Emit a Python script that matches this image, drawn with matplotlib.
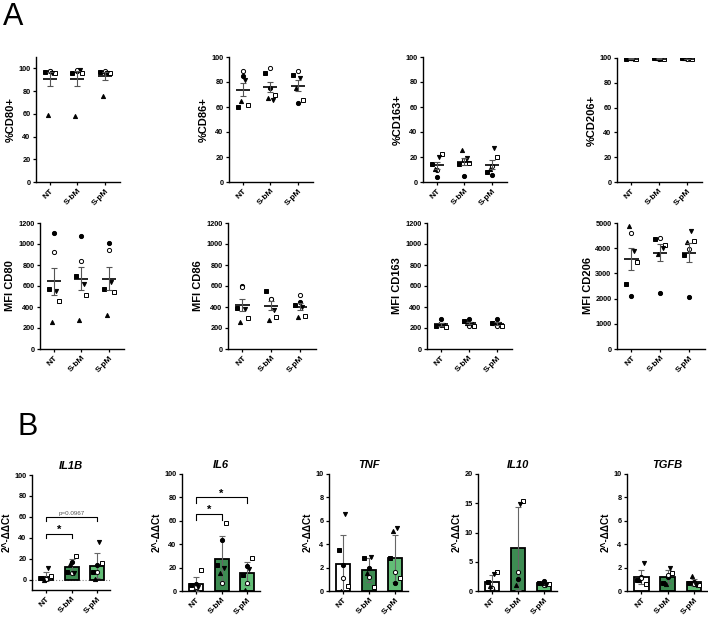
import numpy as np
import matplotlib
matplotlib.use('Agg')
import matplotlib.pyplot as plt

plt.rcParams['font.family'] = ['Liberation Sans', 'DejaVu Sans']
plt.rcParams['font.weight'] = 'bold'
plt.rcParams['axes.linewidth'] = 1.0

W, H = 708, 619
groups = ['NT', 'S-bM', 'S-pM']

# donor order in every list: filled circle, open circle, filled square,
# open square, triangle up, triangle down
donor_marker = ['o', 'o', 's', 's', '^', 'v']
donor_filled = [True, False, True, False, True, True]
donor_dx = [0.0, 0.0, -0.18, 0.18, -0.08, 0.08]

# ---- panel A, top row (% positive) ----
pct_cd80 = [[98, 98, 97, 96, 59, 96],
            [98, 99, 96, 96, 58, 98.5],
            [97, 98, 97, 96, 76, 96]]
pct_cd86 = [[85, 89, 60, 62, 65, 82],
            [75, 91, 87, 70, 67, 66],
            [63, 89, 86, 66, 75, 83]]
pct_cd163 = [[3.7, 9.6, 14.4, 22.7, 10.4, 20],
             [5, 18, 14.4, 15, 26, 19.5],
             [5.9, 12.5, 8, 20, 10.4, 27]]
pct_cd206 = [[99.6, 99.8, 99.4, 99.5, 99.7, 99.2],
             [99.5, 99.7, 99.6, 99.4, 99.8, 99.3],
             [99.6, 99.5, 99.7, 99.4, 99.6, 99.3]]

# ---- panel A, bottom row (MFI) ----
mfi_cd80 = [[1104, 926, 567, 458, 261, 557],
            [1073, 840, 697, 512, 280, 617],
            [1009, 939, 573, 544, 321, 640]]
mfi_cd86 = [[601, 592, 395, 299, 261, 382],
            [480, 480, 555, 305, 280, 370],
            [452, 516, 420, 318, 309, 404]]
mfi_cd163 = [[286, 225, 220, 205, 235, 230],
             [285, 220, 265, 215, 245, 240],
             [285, 220, 250, 215, 245, 240]]
mfi_cd206 = [[2109, 4589, 2586, 3435, 4867, 3900],
             [2215, 4403, 4363, 4138, 3766, 4005],
             [2056, 3979, 3740, 4270, 4244, 4668]]

# ---- panel B (2^-ddCt) ----
il1b = [[0.5, 1, 1.5, 3, 0, 11],
        [17, 6, 7, 23, 15, 6],
        [13.6, 7, 7.3, 16, 0.6, 36]]
il6 = [[6, 3.7, 5, 18, 0, 3],
       [44, 6.6, 22, 58, 15, 20],
       [21.6, 6.5, 14, 28, 1, 19]]
tnf = [[2.2, 1.1, 3.5, 0.45, 0, 6.6],
       [2.0, 1.2, 2.8, 0.3, 1.5, 2.9],
       [0.65, 1.65, 2.8, 1.1, 5.1, 5.4]]
il10 = [[0.35, 0.45, 1.5, 3.3, 0.9, 2.85],
        [2.0, 3.2, np.nan, 15.3, 1.1, 14.8],
        [1.7, 1.0, 1.3, 1.2, 1.4, 1.1]]
tgfb = [[1.2, 1.1, 0.9, 0.6, 0.9, 2.36],
        [1.2, 1.4, 0.7, 1.5, 0.6, 2.0],
        [0.8, 0.6, 0.7, 0.5, 1.3, 0.5]]

bar_colors = ['white', '#3d8c52', '#62bd76']

fig = plt.figure(figsize=(W / 100, H / 100), dpi=100)


def add_ax(x0, x1, ytop, ybot):
    return fig.add_axes([x0 / W, 1 - ybot / H, (x1 - x0) / W, (ybot - ytop) / H])


def style(ax, ylim, yticks, ylabel, xlim=(-0.5, 2.55), ylab_size=8):
    ax.spines['top'].set_visible(False)
    ax.spines['right'].set_visible(False)
    ax.set_xlim(*xlim)
    ax.set_ylim(*ylim)
    ax.set_yticks(yticks)
    ax.set_xticks(range(3))
    ax.set_xticklabels(groups, rotation=45, ha='right', rotation_mode='anchor')
    ax.tick_params(labelsize=5.3, length=2.5, width=0.9, pad=1.5)
    ax.tick_params(axis='x', labelsize=6)
    ax.set_ylabel(ylabel, fontsize=ylab_size, fontweight='bold', labelpad=2)


def draw_points(ax, data):
    for gi, vals in enumerate(data):
        for di, v in enumerate(vals):
            if np.isnan(v):
                continue
            ax.plot(gi + donor_dx[di], v, ls='none', marker=donor_marker[di],
                    ms=3, mew=0.7, mec='k',
                    mfc='k' if donor_filled[di] else 'white', zorder=4)


def scatter_panel(box, data, ylim, yticks, ylabel):
    ax = add_ax(*box)
    draw_points(ax, data)
    for gi, vals in enumerate(data):
        v = np.array(vals, dtype=float)
        v = v[~np.isnan(v)]
        m = v.mean()
        sem = v.std(ddof=1) / np.sqrt(len(v))
        ax.hlines(m, gi - 0.25, gi + 0.25, color='k', lw=1.2, zorder=5)
        ax.errorbar(gi, m, yerr=sem, fmt='none', ecolor='#555555',
                    elinewidth=0.8, capsize=2.5, capthick=0.8, zorder=5)
    style(ax, ylim, yticks, ylabel)
    return ax


def bar_panel(box, data, ylim, yticks, title, xlim=(-0.55, 2.5)):
    ax = add_ax(*box)
    means, sds = [], []
    for vals in data:
        v = np.array(vals, dtype=float)
        v = v[~np.isnan(v)]
        means.append(v.mean())
        sds.append(v.std(ddof=1))
    ax.bar(range(3), means, width=0.55, color=bar_colors, edgecolor='k',
           linewidth=1.3, zorder=2)
    ax.errorbar(range(3), means, yerr=sds, fmt='none', ecolor='#666666',
                elinewidth=0.8, capsize=2.5, capthick=0.8, zorder=3)
    draw_points(ax, data)
    style(ax, ylim, yticks, '2^-ΔΔCt', xlim=xlim, ylab_size=7.2)
    ax.set_title(title, fontsize=8, fontstyle='italic', fontweight='bold', pad=4)
    return ax


def bracket(ax, x0, x1, y, drop, label, size=8, color='k', weight='bold', off=0.0):
    ax.plot([x0, x0, x1, x1], [y - drop, y, y, y - drop], color='k', lw=0.8, zorder=6)
    ax.text((x0 + x1) / 2, y + off, label, ha='center', va='bottom',
            fontsize=size, color=color, fontweight=weight)


# panel A top row
scatter_panel((36, 120, 57, 182), pct_cd80, (0, 110), range(0, 101, 20), '%CD80+')
scatter_panel((229, 313, 57, 182), pct_cd86, (0, 100), range(0, 101, 20), '%CD86+')
scatter_panel((423, 507, 57, 182), pct_cd163, (0, 100), range(0, 101, 20), '%CD163+')
scatter_panel((617, 702, 58, 182), pct_cd206, (0, 100), range(0, 101, 20), '%CD206+')

# panel A bottom row
scatter_panel((40, 124, 223, 349), mfi_cd80, (0, 1200), range(0, 1201, 200), 'MFI CD80')
scatter_panel((228, 316, 223, 349), mfi_cd86, (0, 1200), range(0, 1201, 200), 'MFI CD86')
scatter_panel((427, 512, 223, 349), mfi_cd163, (0, 1200), range(0, 1201, 200), 'MFI CD163')
scatter_panel((617, 705, 223, 349), mfi_cd206, (0, 5000), range(0, 5001, 1000), 'MFI CD206')

# panel B
ax = bar_panel((32, 110, 475, 590), il1b, (-10, 100), range(0, 101, 20), 'IL1B')
ax.axhline(0, color='#888888', lw=0.8, ls=':', zorder=1)
bracket(ax, 0, 1, 44, 4, '*', off=-1)
bracket(ax, 0, 2, 60, 4, 'p=0.0967', size=4.5, color='#555555', weight='normal', off=1)

ax = bar_panel((182, 260, 474, 591), il6, (0, 100), range(0, 101, 20), 'IL6')
bracket(ax, 0, 1, 66, 5, '*', off=-1)
bracket(ax, 0, 2, 80, 5, '*', off=-1)

bar_panel((329, 408, 474, 591), tnf, (0, 10), range(0, 11, 2), 'TNF')
bar_panel((478, 557, 474, 591), il10, (0, 20), range(0, 21, 5), 'IL10')
bar_panel((627, 707, 474, 591), tgfb, (0, 10), range(0, 11, 2), 'TGFB')

fig.text(3 / W, 1 - 25 / H, 'A', fontsize=22, fontweight='normal', va='baseline')
fig.text(17 / W, 1 - 435 / H, 'B', fontsize=22, fontweight='normal', va='baseline')

fig.savefig('out.png', dpi=100, facecolor='white')
